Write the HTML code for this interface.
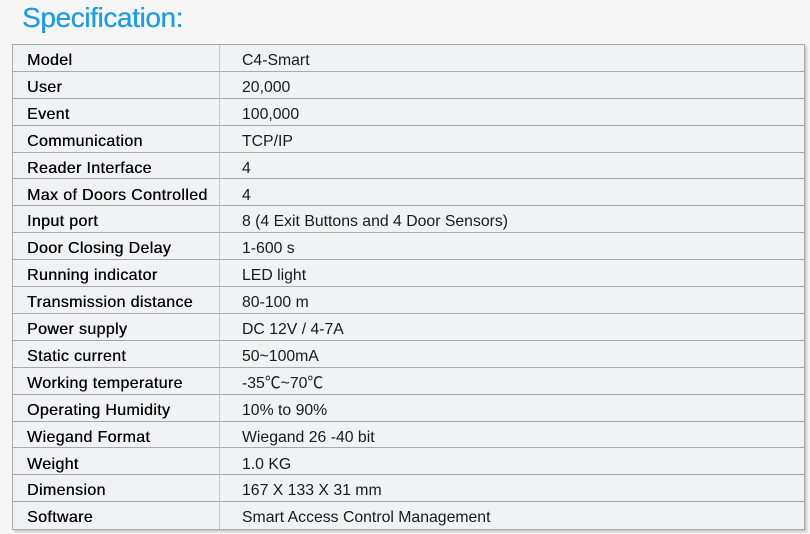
<!DOCTYPE html>
<html><head><style>
body{margin:0;width:810px;height:534px;background:#f6f6f6;position:relative;overflow:hidden;font-family:"Liberation Sans","Noto Sans CJK SC",sans-serif;}
h1{position:absolute;left:22px;top:2px;margin:0;font-weight:normal;font-size:28px;color:#1e9be2;letter-spacing:-0.4px;text-shadow:0.3px 0 0 #1e9be2}
#t{position:absolute;left:12px;top:44px;width:791px;height:484px;border:1px solid #a9a9a9;background:#f1f2f3;box-shadow:2px 2px 2px #c8c8c8}
.r{position:absolute;left:0;width:791px;height:26.9px;border-bottom:1px solid #a9a9a9;box-sizing:border-box;font-size:16px;color:#111}
.a{position:absolute;left:14px;top:7px;line-height:18px;color:#000;letter-spacing:0.35px;text-shadow:0.3px 0 0 #000}
.b{position:absolute;left:229px;top:7px;line-height:18px;font-size:15.8px;color:#1a1a1a}
#v{position:absolute;left:206px;top:0;width:1px;height:484px;background:#c4c4c4}
</style></head><body>
<h1>Specification:</h1>
<div id="t">
<div class="r" style="top:0"><span class="a">Model</span><span class="b">C4-Smart</span></div>
<div class="r" style="top:26.9px"><span class="a">User</span><span class="b">20,000</span></div>
<div class="r" style="top:53.8px"><span class="a">Event</span><span class="b">100,000</span></div>
<div class="r" style="top:80.7px"><span class="a">Communication</span><span class="b">TCP/IP</span></div>
<div class="r" style="top:107.6px"><span class="a">Reader Interface</span><span class="b">4</span></div>
<div class="r" style="top:134.5px"><span class="a">Max of Doors Controlled</span><span class="b">4</span></div>
<div class="r" style="top:161.4px"><span class="a">Input port</span><span class="b">8 (4 Exit Buttons and 4 Door Sensors)</span></div>
<div class="r" style="top:188.3px"><span class="a">Door Closing Delay</span><span class="b">1-600 s</span></div>
<div class="r" style="top:215.2px"><span class="a">Running indicator</span><span class="b">LED light</span></div>
<div class="r" style="top:242.1px"><span class="a">Transmission distance</span><span class="b">80-100 m</span></div>
<div class="r" style="top:269px"><span class="a">Power supply</span><span class="b">DC 12V / 4-7A</span></div>
<div class="r" style="top:295.9px"><span class="a">Static current</span><span class="b">50~100mA</span></div>
<div class="r" style="top:322.8px"><span class="a">Working temperature</span><span class="b">-35℃~70℃</span></div>
<div class="r" style="top:349.7px"><span class="a">Operating Humidity</span><span class="b">10% to 90%</span></div>
<div class="r" style="top:376.6px"><span class="a">Wiegand Format</span><span class="b">Wiegand 26 -40 bit</span></div>
<div class="r" style="top:403.5px"><span class="a">Weight</span><span class="b">1.0 KG</span></div>
<div class="r" style="top:430.4px"><span class="a">Dimension</span><span class="b">167 X 133 X 31 mm</span></div>
<div class="r" style="top:457.3px;border-bottom:none"><span class="a">Software</span><span class="b">Smart Access Control Management</span></div>
<div id="v"></div>
</div>
</body></html>
